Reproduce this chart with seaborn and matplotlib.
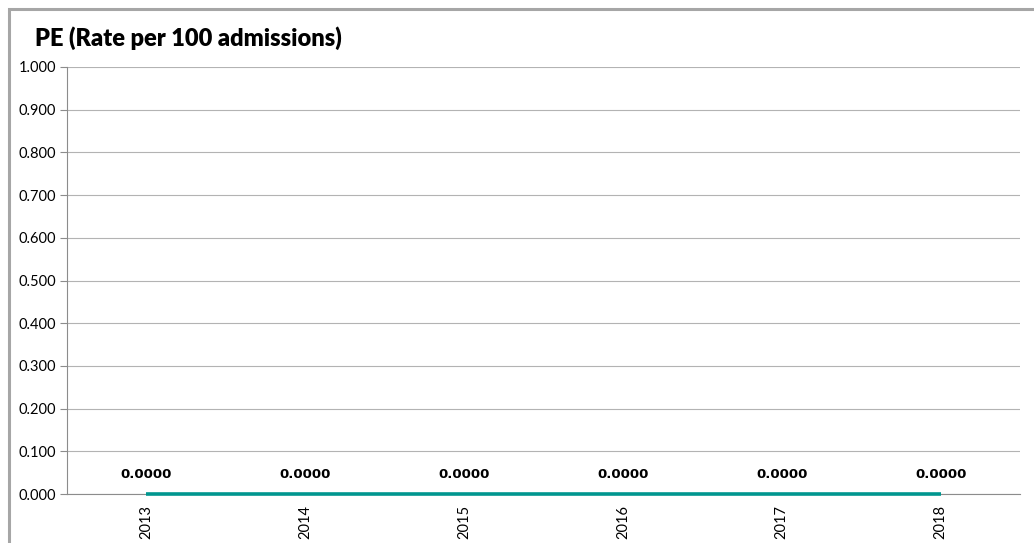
import matplotlib
matplotlib.use("Agg")
import matplotlib.pyplot as plt
import matplotlib.patches as mpatches
import pandas as pd
import seaborn as sns

# chart data
years = ["2013", "2014", "2015", "2016", "2017", "2018"]
rates = [0.0, 0.0, 0.0, 0.0, 0.0, 0.0]
y_ticks = [0.0, 0.1, 0.2, 0.3, 0.4, 0.5, 0.6, 0.7, 0.8, 0.9, 1.0]

df = pd.DataFrame({"pos": range(len(years)), "Year": years, "Rate": rates})

sns.set_theme(style="white")
plt.rcParams["font.family"] = ["Lato", "DejaVu Sans"]

W, H = 1034, 543
fig = plt.figure(figsize=(W / 100, H / 100), dpi=100)
ax = fig.add_axes([67 / W, (H - 494) / H, 953 / W, (494 - 67) / H])

# outer frame of the chart box (left and top edges visible)
fig.patches.append(mpatches.Rectangle((9 / W, -0.2), 1.2, (H - 9) / H + 0.2,
                                      transform=fig.transFigure, fill=False,
                                      edgecolor="#a6a6a6", linewidth=2.2))

sns.lineplot(data=df, x="pos", y="Rate", ax=ax, color="#00968f",
             linewidth=2.6, legend=False, solid_capstyle="butt")
for ln in ax.get_lines():
    ln.set_clip_on(False)
    ln.set_zorder(5)

for i, v in enumerate(rates):
    ax.annotate(f"{v:.4f}", (i, v), xytext=(0, 20), textcoords="offset pixels",
                ha="center", va="center", fontsize=9.5, fontweight="bold",
                family="DejaVu Sans", color="black")

ax.set_xlim(-0.5, len(years) - 0.5)
ax.set_ylim(0, 1.0)
ax.set_yticks(y_ticks)
ax.set_yticklabels([f"{t:.3f}" for t in y_ticks], fontsize=10.5, color="black")
ax.yaxis.grid(True, color="#b3b3b3", linewidth=0.8)
ax.set_axisbelow(True)

ax.set_xticks(range(len(years)))
ax.set_xticklabels(years, rotation=90, fontsize=10.5, color="black")
ax.set_xticks([i - 0.5 for i in range(len(years) + 1)], minor=True)
ax.tick_params(axis="x", which="major", length=0, pad=8)
ax.tick_params(axis="x", which="minor", length=5, color="#8c8c8c", width=0.8)
ax.tick_params(axis="y", which="major", length=5, color="#8c8c8c", width=0.8, pad=3, left=True)

for side in ["top", "right"]:
    ax.spines[side].set_visible(False)
for side in ["left", "bottom"]:
    ax.spines[side].set_color("#8c8c8c")
    ax.spines[side].set_linewidth(0.8)

ax.set_xlabel("")
ax.set_ylabel("")

fig.text(35 / W, 1 - 38 / H, "PE (Rate per 100 admissions)", fontsize=17,
         fontweight="heavy", ha="left", va="center", color="black")

fig.savefig("out.png", dpi=100)
plt.close(fig)
